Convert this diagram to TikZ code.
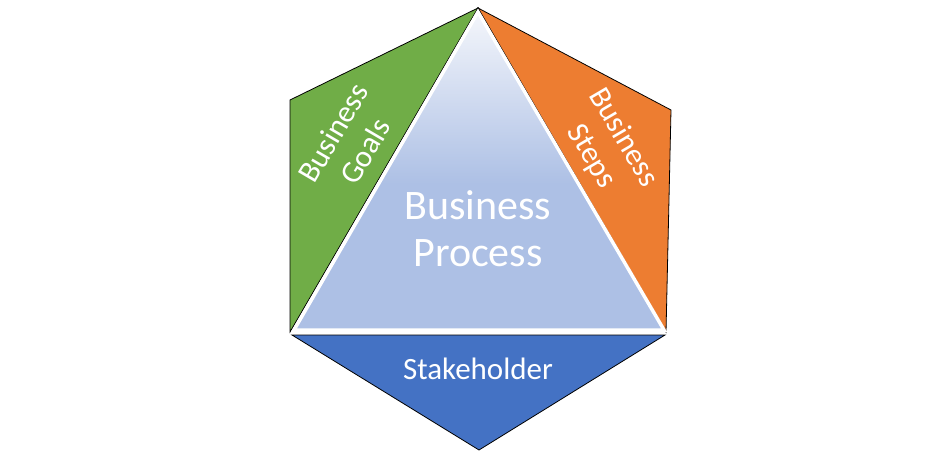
\documentclass[tikz,border=0pt]{standalone}
\usepackage{fontspec}
\setmainfont{Carlito}
\definecolor{goalgreen}{HTML}{70AD47}
\definecolor{steporange}{HTML}{ED7D31}
\definecolor{stakeblue}{HTML}{4472C4}
\definecolor{bpblue}{HTML}{ADC0E5}
\definecolor{bptop}{HTML}{F4F6FB}
\pgfdeclareverticalshading{bpshade}{100bp}{color(0bp)=(bpblue); color(25bp)=(bpblue); color(48bp)=(bpblue); color(75bp)=(bptop); color(100bp)=(bptop)}
\begin{document}
\begin{tikzpicture}[x=1pt,y=-1pt,
  facet/.style={draw=black, line width=0.8pt, line join=miter},
  lbl/.style={text=white, align=center, inner sep=0pt, font=\fontsize{31}{37}\selectfont},
  biglbl/.style={text=white, align=center, inner sep=0pt, font=\fontsize{42}{47}\selectfont}]
\useasboundingbox (0,0) rectangle (949,457);
% outer facets
\coordinate (apex) at (478,8);
\coordinate (gl) at (290,100);
\coordinate (gb) at (290,332);
\coordinate (or) at (671,110);
\coordinate (ob) at (666,332);
\coordinate (bl) at (292,335);
\coordinate (br) at (665,335);
\coordinate (bb) at (479,450);
\fill[goalgreen, facet] (apex) -- (gl) -- (gb) -- cycle;
\fill[steporange, facet] (apex) -- (or) -- (ob) -- cycle;
\fill[stakeblue, facet] (bl) -- (br) -- (bb) -- cycle;
% central triangle
\coordinate (ct) at (478,12);
\coordinate (cl) at (294,330);
\coordinate (cr) at (664,330);
\shade[shading=bpshade, draw=white, line width=3.5pt, line join=miter] (ct) -- (cr) -- (cl) -- cycle;
% labels
\node[biglbl] (bp) at (478,229) {Business\\Process};
\node[lbl] (st) at (478,369) {Stakeholder};
\node[lbl, rotate=59.6] (bg) at (349,142) {Business\\Goals};
\node[lbl, rotate=-59.6] (bs) at (607,147) {Business\\Steps};
\end{tikzpicture}
\end{document}
